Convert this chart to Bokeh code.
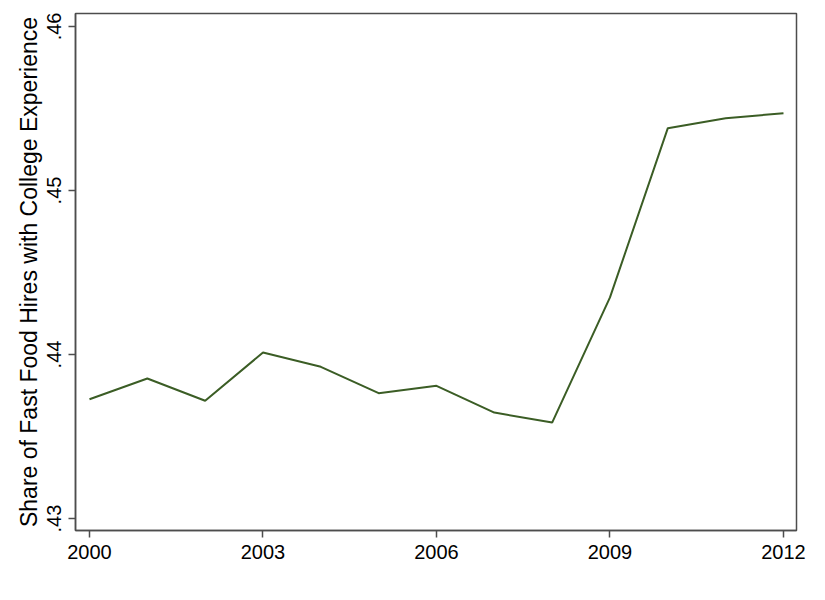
from bokeh.plotting import figure
from bokeh.models import FixedTicker, Range1d
from bokeh.embed import file_html
from bokeh.resources import INLINE

years = [2000, 2001, 2002, 2003, 2004, 2005, 2006, 2007, 2008, 2009, 2010, 2011, 2012]
share = [0.43727, 0.43854, 0.43718, 0.44012, 0.43925, 0.43764, 0.43809,
         0.43646, 0.43585, 0.44348, 0.45380, 0.45441, 0.45471]

x_ticks = [2000, 2003, 2006, 2009, 2012]
y_ticks = [0.43, 0.44, 0.45, 0.46]
y_tick_labels = [".43", ".44", ".45", ".46"]
y_label = "Share of Fast Food Hires with College Experience"

FONT = "Liberation Sans"
FRAME = "#4d4d4d"

p = figure(width=809, height=584, output_backend="svg", toolbar_location=None,
           x_range=Range1d(1999.758, 2012.225), y_range=Range1d(0.42927, 0.46079),
           min_border_left=75, min_border_right=13, min_border_top=13, min_border_bottom=54)

p.line(years, share, line_color="#3b5d25", line_width=2)

p.xgrid.visible = False
p.ygrid.visible = False
p.background_fill_color = "white"
p.border_fill_color = "white"
p.outline_line_color = FRAME
p.outline_line_width = 1.5

p.xaxis.ticker = FixedTicker(ticks=x_ticks)
p.yaxis.ticker = FixedTicker(ticks=y_ticks)
p.yaxis.major_label_overrides = {t: l for t, l in zip(y_ticks, y_tick_labels)}
p.yaxis.major_label_orientation = "vertical"
p.yaxis.axis_label = y_label

for ax in (p.xaxis, p.yaxis):
    ax.axis_line_color = FRAME
    ax.axis_line_width = 1.5
    ax.major_tick_line_color = FRAME
    ax.major_tick_line_width = 1.5
    ax.major_tick_in = 0
    ax.major_tick_out = 7
    ax.minor_tick_line_color = None
    ax.major_label_text_font = FONT
    ax.major_label_text_font_size = "20px"
    ax.major_label_text_color = "black"
    ax.major_label_standoff = 7
    ax.axis_label_text_font = FONT
    ax.axis_label_text_font_size = "23px"
    ax.axis_label_text_font_style = "normal"
    ax.axis_label_text_color = "black"
    ax.axis_label_standoff = 3

open("out.html", "w").write(file_html(p, INLINE))
